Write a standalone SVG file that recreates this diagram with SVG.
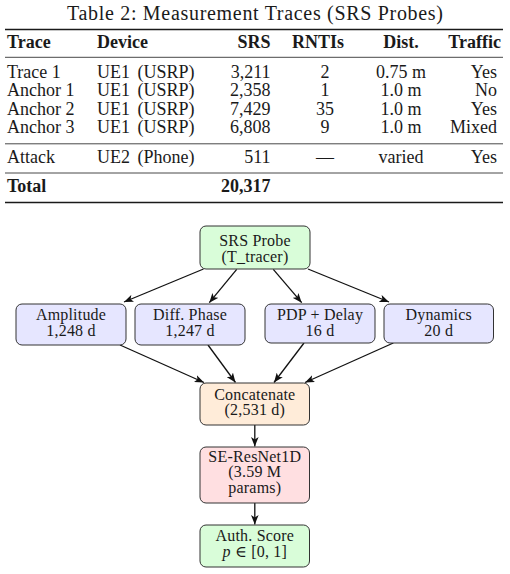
<svg xmlns="http://www.w3.org/2000/svg" width="510" height="574" viewBox="0 0 510 574">
<defs>
<style>
text { font-family: "Liberation Serif", "DejaVu Serif", serif; fill: #1a1a1a; }
.cap { font-size: 20px; text-anchor: middle; }
.t { font-size: 18px; }
.b { font-weight: bold; }
.r { text-anchor: end; }
.m { text-anchor: middle; }
.thick { stroke: #1a1a1a; stroke-width: 1.3; }
.thin { stroke: #1a1a1a; stroke-width: 0.8; }
.node rect { stroke: #333; stroke-width: 1; }
.node text { font-size: 16px; text-anchor: middle; letter-spacing: 0.2px; }
.green { fill: #d9fdd9; }
.blue { fill: #e6e6ff; }
.orange { fill: #ffecd9; }
.red { fill: #ffdfe1; }
#connectors line { stroke: #111; stroke-width: 1.3; marker-end: url(#ah); }
</style>
<marker id="ah" viewBox="0 0 10 8" refX="10" refY="4" markerWidth="9.5" markerHeight="7.6" markerUnits="userSpaceOnUse" orient="auto">
<path d="M0,0 L10,4 L0,8 L2.5,4 z" fill="#111"/>
</marker>
</defs>
<rect x="0" y="0" width="510" height="574" fill="#fff"/>

<g id="table">
<text class="cap" x="255" y="20" textLength="376">Table 2: Measurement Traces (SRS Probes)</text>
<line class="thick" x1="5" y1="29.5" x2="503" y2="29.5"/>
<g class="t b">
<text x="7" y="48">Trace</text>
<text x="97" y="48">Device</text>
<text class="r" x="270.5" y="48">SRS</text>
<text class="m" x="318" y="48">RNTIs</text>
<text class="m" x="401" y="48">Dist.</text>
<text class="r" x="501" y="48">Traffic</text>
</g>
<line class="thin" x1="5" y1="57.3" x2="503" y2="57.3"/>
<g class="t">
<text x="7" y="77.5">Trace 1</text>
<text x="97" y="77.5">UE1 <tspan dx="3">(USRP)</tspan></text>
<text class="r" x="270.5" y="77.5">3,211</text>
<text class="m" x="325" y="77.5">2</text>
<text class="m" x="401" y="77.5">0.75 m</text>
<text class="r" x="497" y="77.5">Yes</text>

<text x="7" y="96">Anchor 1</text>
<text x="97" y="96">UE1 <tspan dx="3">(USRP)</tspan></text>
<text class="r" x="270.5" y="96">2,358</text>
<text class="m" x="325" y="96">1</text>
<text class="m" x="401" y="96">1.0 m</text>
<text class="r" x="497" y="96">No</text>

<text x="7" y="114.5">Anchor 2</text>
<text x="97" y="114.5">UE1 <tspan dx="3">(USRP)</tspan></text>
<text class="r" x="270.5" y="114.5">7,429</text>
<text class="m" x="325" y="114.5">35</text>
<text class="m" x="401" y="114.5">1.0 m</text>
<text class="r" x="497" y="114.5">Yes</text>

<text x="7" y="133">Anchor 3</text>
<text x="97" y="133">UE1 <tspan dx="3">(USRP)</tspan></text>
<text class="r" x="270.5" y="133">6,808</text>
<text class="m" x="325" y="133">9</text>
<text class="m" x="401" y="133">1.0 m</text>
<text class="r" x="497" y="133">Mixed</text>
</g>
<line class="thin" x1="5" y1="143.8" x2="503" y2="143.8"/>
<g class="t">
<text x="7" y="162.5">Attack</text>
<text x="97" y="162.5">UE2 <tspan dx="3">(Phone)</tspan></text>
<text class="r" x="270.5" y="162.5">511</text>
<text class="m" x="325" y="162.5">—</text>
<text class="m" x="401" y="162.5">varied</text>
<text class="r" x="497" y="162.5">Yes</text>
</g>
<line class="thin" x1="5" y1="173" x2="503" y2="173"/>
<g class="t b">
<text x="7" y="191.5">Total</text>
<text class="r" x="270.5" y="191.5">20,317</text>
</g>
<line class="thick" x1="5" y1="202.5" x2="503" y2="202.5"/>
</g>

<g id="connectors">
<line x1="203.5" y1="269" x2="124" y2="302"/>
<line x1="236.7" y1="269.3" x2="209.3" y2="302.7"/>
<line x1="273.3" y1="269.3" x2="301.7" y2="302.7"/>
<line x1="308" y1="269" x2="389" y2="302"/>
<line x1="120" y1="345" x2="204" y2="382.5"/>
<line x1="208" y1="345" x2="235.5" y2="382.5"/>
<line x1="304" y1="343" x2="274" y2="382.5"/>
<line x1="393.3" y1="343" x2="305" y2="382.5"/>
<line x1="254.8" y1="425" x2="254.8" y2="446.5"/>
<line x1="254.8" y1="503" x2="254.8" y2="524.5"/>
</g>

<g id="srs" class="node">
<rect class="green" x="200" y="226" width="110" height="43" rx="6"/>
<text x="255" y="245.7">SRS Probe</text>
<text x="255" y="262">(T_tracer)</text>
</g>
<g id="amplitude" class="node">
<rect class="blue" x="16" y="304" width="110" height="41" rx="6"/>
<text x="71" y="320">Amplitude</text>
<text x="71" y="336">1,248 d</text>
</g>
<g id="diffphase" class="node">
<rect class="blue" x="135" y="304" width="110" height="41" rx="6"/>
<text x="190" y="320">Diff. Phase</text>
<text x="190" y="336">1,247 d</text>
</g>
<g id="pdp" class="node">
<rect class="blue" x="265" y="304" width="110" height="39" rx="6"/>
<text x="320" y="320">PDP + Delay</text>
<text x="320" y="336">16 d</text>
</g>
<g id="dynamics" class="node">
<rect class="blue" x="384" y="304" width="109.5" height="39" rx="6"/>
<text x="438.7" y="320">Dynamics</text>
<text x="438.7" y="336">20 d</text>
</g>
<g id="concat" class="node">
<rect class="orange" x="200" y="383" width="109.5" height="42" rx="6"/>
<text x="254.8" y="399.5">Concatenate</text>
<text x="254.8" y="415">(2,531 d)</text>
</g>
<g id="seresnet" class="node">
<rect class="red" x="200" y="447" width="109.5" height="56" rx="6"/>
<text x="254.8" y="461.5">SE-ResNet1D</text>
<text x="254.8" y="477.3">(3.59 M</text>
<text x="254.8" y="492.7">params)</text>
</g>
<g id="auth" class="node">
<rect class="green" x="200" y="525" width="109.5" height="42" rx="6"/>
<text x="254.8" y="540.7">Auth. Score</text>
<text x="254.8" y="556.7"><tspan font-style="italic">p</tspan> ∈ [0, 1]</text>
</g>
</svg>
